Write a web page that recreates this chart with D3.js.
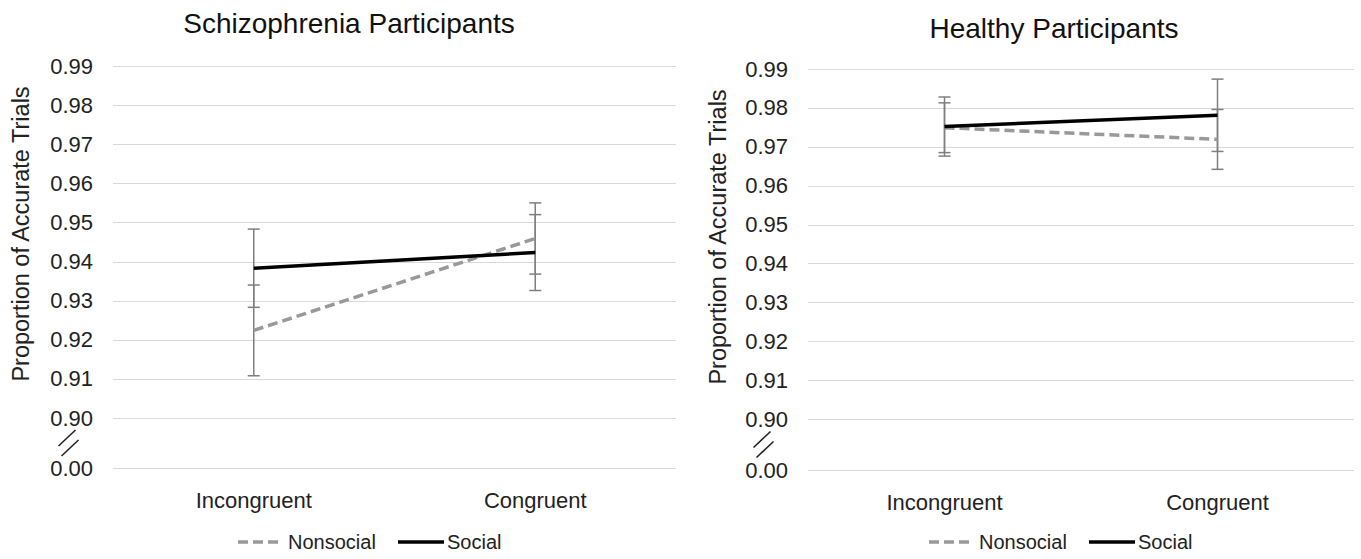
<!DOCTYPE html>
<html>
<head>
<meta charset="utf-8">
<script src="https://cdn.jsdelivr.net/npm/d3@7"></script>
<style>
  html, body { margin: 0; padding: 0; background: #fff; }
  svg { display: block; }
</style>
</head>
<body>
<svg id="chart" width="1361" height="559"></svg>
<script>
const categories = ["Incongruent", "Congruent"];
const yTicks = [0.0, 0.90, 0.91, 0.92, 0.93, 0.94, 0.95, 0.96, 0.97, 0.98, 0.99];
const seriesNames = ["Nonsocial", "Social"];

// schizophrenia participants
const schizNonsocial = [0.9224, 0.9459];
const schizNonsocialErr = [0.0116, 0.0091];
const schizSocial = [0.9383, 0.9423];
const schizSocialErr = [0.0100, 0.0097];

// healthy participants
const healthyNonsocial = [0.9749, 0.9719];
const healthyNonsocialErr = [0.0064, 0.0077];
const healthySocial = [0.9752, 0.9781];
const healthySocialErr = [0.0076, 0.0093];

const font = "'Liberation Sans', Arial, sans-serif";
const svgNode = document.getElementById("chart");
const root = d3.select(svgNode);

root.append("rect").attr("width", 1361).attr("height", 559).attr("fill", "#fff");

function drawPanel(opts) {
  const { title, titleX, titleY, left, right, yTop, yBreak, yZero, axisTitleX, axisTitleY, legendX, nonsocial, nonsocialErr, social, socialErr } = opts;

  const g = root.append("g");

  const x = d3.scaleBand().domain(categories).range([left, right]);
  // broken axis: 0 sits just below 0.90
  const y = d3.scaleLinear().domain([0, 0.90, 0.99]).range([yZero, yBreak, yTop]);

  // title
  g.append("text")
    .attr("x", titleX)
    .attr("y", titleY)
    .attr("text-anchor", "middle")
    .attr("dominant-baseline", "middle")
    .attr("font-family", font)
    .attr("font-size", 28)
    .attr("fill", "#111")
    .text(title);

  // grid
  g.append("g")
    .selectAll("line")
    .data(yTicks)
    .join("line")
    .attr("x1", left)
    .attr("x2", right)
    .attr("y1", (d) => Math.round(y(d)) + 0.5)
    .attr("y2", (d) => Math.round(y(d)) + 0.5)
    .attr("stroke", "#d9d9d9")
    .attr("stroke-width", 1.2);

  // y axis labels
  const yAxis = d3.axisLeft(y).tickValues(yTicks).tickFormat(d3.format(".2f")).tickSize(0).tickPadding(20);
  g.append("g")
    .attr("transform", `translate(${left},0)`)
    .call(yAxis)
    .call((a) => a.select(".domain").remove())
    .call((a) =>
      a.selectAll("text")
        .attr("font-family", font)
        .attr("font-size", 22)
        .attr("fill", "#222")
    );

  // axis break marks
  const bx = left - 44;
  const by = (yBreak + yZero) / 2;
  g.append("g")
    .selectAll("line")
    .data([-5, 5])
    .join("line")
    .attr("x1", (d) => bx - 9 + d * 0.3)
    .attr("y1", (d) => by + 8 + d)
    .attr("x2", (d) => bx + 8 + d * 0.3)
    .attr("y2", (d) => by - 8 + d)
    .attr("stroke", "#222")
    .attr("stroke-width", 1.6);

  // y axis title
  g.append("text")
    .attr("transform", `translate(${axisTitleX},${axisTitleY}) rotate(-90)`)
    .attr("text-anchor", "middle")
    .attr("dominant-baseline", "middle")
    .attr("font-family", font)
    .attr("font-size", 23.5)
    .attr("fill", "#222")
    .text("Proportion of Accurate Trials");

  // x axis labels
  const xAxis = d3.axisBottom(x).tickSize(0).tickPadding(24);
  g.append("g")
    .attr("transform", `translate(0,${yZero})`)
    .call(xAxis)
    .call((a) => a.select(".domain").remove())
    .call((a) =>
      a.selectAll("text")
        .attr("font-family", font)
        .attr("font-size", 22)
        .attr("fill", "#222")
    );

  const cx = (d, i) => x(categories[i]) + x.bandwidth() / 2;
  const series = [
    { name: seriesNames[0], values: nonsocial, err: nonsocialErr, color: "#999", dash: "10,5" },
    { name: seriesNames[1], values: social, err: socialErr, color: "#000", dash: null },
  ];

  // error bars
  series.forEach((s) => {
    const eb = g.append("g").attr("stroke", "#7f7f7f").attr("stroke-width", 1.5);
    s.values.forEach((v, i) => {
      const px = cx(v, i);
      eb.append("line").attr("x1", px).attr("x2", px).attr("y1", y(v - s.err[i])).attr("y2", y(v + s.err[i]));
      [v - s.err[i], v + s.err[i]].forEach((e) => {
        eb.append("line").attr("x1", px - 6).attr("x2", px + 6).attr("y1", y(e)).attr("y2", y(e));
      });
    });
  });

  // lines
  const line = d3.line().x((d, i) => cx(d, i)).y((d) => y(d));
  series.forEach((s) => {
    g.append("path")
      .datum(s.values)
      .attr("d", line)
      .attr("fill", "none")
      .attr("stroke", s.color)
      .attr("stroke-width", 3.5)
      .attr("stroke-dasharray", s.dash);
  });

  // legend
  const lg = g.append("g").attr("transform", `translate(${legendX},542)`);
  lg.append("line").attr("x1", 0).attr("x2", 41).attr("stroke", "#999").attr("stroke-width", 3.5).attr("stroke-dasharray", "10,5");
  lg.append("text").attr("x", 50).attr("dy", "0.35em").attr("font-family", font).attr("font-size", 20).attr("fill", "#222").text(seriesNames[0]);
  lg.append("line").attr("x1", 160).attr("x2", 206).attr("stroke", "#000").attr("stroke-width", 3.5);
  lg.append("text").attr("x", 209).attr("dy", "0.35em").attr("font-family", font).attr("font-size", 20).attr("fill", "#222").text(seriesNames[1]);
}

drawPanel({
  title: "Schizophrenia Participants",
  titleX: 349, titleY: 26,
  left: 113, right: 676,
  yTop: 66, yBreak: 418, yZero: 468,
  axisTitleX: 23, axisTitleY: 234,
  legendX: 238,
  nonsocial: schizNonsocial, nonsocialErr: schizNonsocialErr,
  social: schizSocial, socialErr: schizSocialErr,
});

drawPanel({
  title: "Healthy Participants",
  titleX: 1054, titleY: 31,
  left: 808, right: 1354,
  yTop: 69, yBreak: 419, yZero: 470,
  axisTitleX: 720, axisTitleY: 237,
  legendX: 929,
  nonsocial: healthyNonsocial, nonsocialErr: healthyNonsocialErr,
  social: healthySocial, socialErr: healthySocialErr,
});
</script>
</body>
</html>
